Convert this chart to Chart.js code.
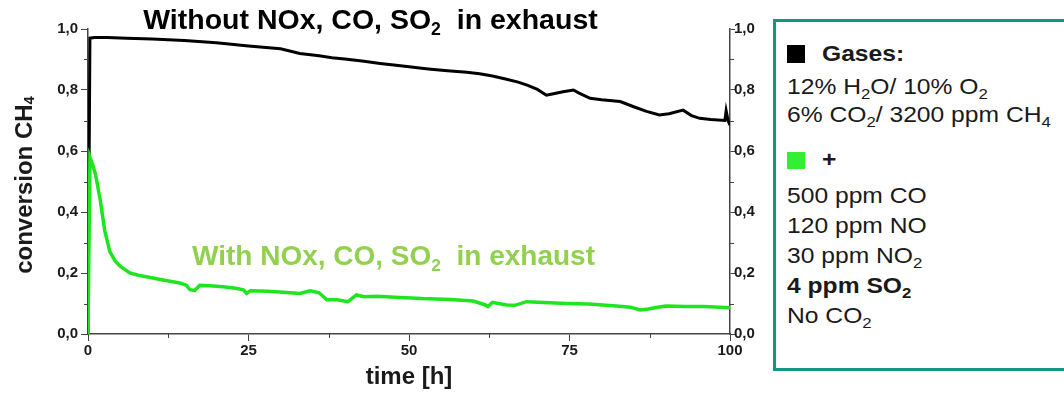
<!DOCTYPE html>
<html>
<head>
<meta charset="utf-8">
<script src="https://cdn.jsdelivr.net/npm/chart.js@4/dist/chart.umd.min.js"></script>
<style>
  body { margin: 0; background: #fff; font-family: 'Liberation Sans', Arial, sans-serif; }
  #wrap { position: relative; width: 1064px; height: 396px; overflow: hidden; }
  #chart { position: absolute; left: 0; top: 0; }
  #legend { position: absolute; left: 773px; top: 19px; width: 300px; height: 346px;
            border: 3px solid #12977f; box-sizing: content-box; color: #1a1a1a; font-size: 22px; }
  #legend .ln { position: absolute; left: 11px; line-height: 22px; white-space: nowrap;
                transform: scaleX(1.12); transform-origin: left center; }
  #legend sub { font-size: 0.68em; vertical-align: -0.35em; line-height: 0; }
  #legend .sq { position: absolute; left: 11px; width: 18px; height: 18px; }
  #legend b { font-weight: bold; }
</style>
</head>
<body>
<div id="wrap">
  <canvas id="chart" width="770" height="396"></canvas>
  <div id="legend">
    <div class="sq" style="top:23px; background:#000"></div>
    <div class="ln" style="top:21px; left:46px"><b>Gases:</b></div>
    <div class="ln" style="top:54px">12% H<sub>2</sub>O/ 10% O<sub>2</sub></div>
    <div class="ln" style="top:82px">6% CO<sub>2</sub>/ 3200 ppm CH<sub>4</sub></div>
    <div class="sq" style="top:130px; height:17px; background:#33ee33"></div>
    <div class="ln" style="top:127px; left:46px"><b>+</b></div>
    <div class="ln" style="top:163px">500 ppm CO</div>
    <div class="ln" style="top:193px">120 ppm NO</div>
    <div class="ln" style="top:223px">30 ppm NO<sub>2</sub></div>
    <div class="ln" style="top:253px"><b>4 ppm SO<sub>2</sub></b></div>
    <div class="ln" style="top:283px">No CO<sub>2</sub></div>
  </div>
</div>
<script>
// time [h] and CH4 conversion
const blackTime = [0, 0.3, 1, 3, 6, 10, 15, 20, 25, 30, 33, 36, 38, 40, 43, 45.5, 48, 50, 53, 56, 59, 61, 63,
  65.2, 67, 68.5, 70, 71.4, 72.5, 74, 75.6, 76.5, 78.2, 80, 82.9, 85, 87, 89, 90.5, 92.7, 94, 95.3, 97, 99.2, 99.4, 99.7, 100];
const blackConv = [0, 0.97, 0.972, 0.972, 0.970, 0.967, 0.962, 0.955, 0.944, 0.935, 0.920, 0.912, 0.906, 0.902, 0.894, 0.887, 0.881, 0.876, 0.869, 0.863, 0.858, 0.853, 0.846,
  0.835, 0.826, 0.815, 0.802, 0.783, 0.788, 0.794, 0.800, 0.790, 0.773, 0.768, 0.762, 0.745, 0.730, 0.718, 0.722, 0.734, 0.716, 0.707, 0.703, 0.700, 0.732, 0.700, 0.685];

const greenTime = [0, 0.3, 0.8, 1.2, 1.9, 2.6, 3.4, 4.2, 5, 6.5, 8, 9.5, 11.7, 13, 14.3, 15.3, 15.9, 16.6, 17.4, 19, 21, 23, 24.2, 24.7, 25.3,
  28, 31, 33, 34.6, 36, 37.2, 38.8, 40.5, 41.8, 43, 45, 48.6, 52, 56.4, 60, 61.8, 62.3, 63, 65.2, 66.5, 68.3, 71, 74.5, 78, 82.3, 84.5, 86, 87.3, 88.5, 90, 93, 96, 100];
const greenConv = [0, 0.58, 0.55, 0.52, 0.44, 0.34, 0.27, 0.24, 0.222, 0.200, 0.192, 0.186, 0.177, 0.172, 0.167, 0.160, 0.145, 0.142, 0.160, 0.158, 0.155, 0.150, 0.145, 0.133, 0.142,
  0.140, 0.136, 0.133, 0.142, 0.135, 0.112, 0.112, 0.106, 0.128, 0.122, 0.124, 0.120, 0.116, 0.113, 0.108, 0.096, 0.090, 0.104, 0.095, 0.094, 0.106, 0.103, 0.100, 0.098, 0.092, 0.088, 0.079, 0.082, 0.087, 0.092, 0.090, 0.090, 0.086];

const xTickValues = [0, 25, 50, 75, 100];
const yTickValues = [0, 0.2, 0.4, 0.6, 0.8, 1.0];
const xMinorTicks = [12.5, 37.5, 62.5, 87.5];
const yMinorTicks = [0.1, 0.3, 0.5, 0.7, 0.9];

const FONT = "'Liberation Sans', Arial, sans-serif";

function toXY(ts, vs) {
  return ts.map((t, i) => ({ x: t, y: vs[i] }));
}

function drawRich(ctx, parts, x, y, size) {
  let cx = x;
  parts.forEach(p => {
    const s = p[1] ? size * 0.62 : size;
    ctx.font = 'bold ' + s + 'px ' + FONT;
    ctx.fillText(p[0], cx, p[1] ? y + size * 0.22 : y);
    cx += ctx.measureText(p[0]).width;
  });
}

function richWidth(ctx, parts, size) {
  let w = 0;
  parts.forEach(p => {
    ctx.font = 'bold ' + (p[1] ? size * 0.62 : size) + 'px ' + FONT;
    w += ctx.measureText(p[0]).width;
  });
  return w;
}

const yFmt = v => v.toFixed(1).replace('.', ',');

const labelsPlugin = {
  id: 'labels',
  afterDraw(chart) {
    const ctx = chart.ctx;
    const xs = chart.scales.x, ys = chart.scales.y;
    const area = chart.chartArea;
    ctx.save();
    // minor ticks
    ctx.strokeStyle = '#444';
    ctx.lineWidth = 1;
    ctx.beginPath();
    xMinorTicks.forEach(v => {
      const px = Math.round(xs.getPixelForValue(v)) + 0.5;
      ctx.moveTo(px, area.bottom);
      ctx.lineTo(px, area.bottom + 4);
    });
    yMinorTicks.forEach(v => {
      const py = Math.round(ys.getPixelForValue(v)) + 0.5;
      ctx.moveTo(area.left - 4, py);
      ctx.lineTo(area.left, py);
      ctx.moveTo(area.right, py);
      ctx.lineTo(area.right + 4, py);
    });
    ctx.stroke();

    // tick labels
    ctx.fillStyle = '#1a1a1a';
    ctx.font = 'bold 15px ' + FONT;
    ctx.textBaseline = 'middle';
    yTickValues.forEach(v => {
      const py = ys.getPixelForValue(v);
      ctx.textAlign = 'right';
      ctx.fillText(yFmt(v), area.left - 10, py);
      ctx.textAlign = 'left';
      ctx.fillText(yFmt(v), area.right + 4, py);
    });
    ctx.textAlign = 'center';
    ctx.textBaseline = 'top';
    xTickValues.forEach(v => {
      ctx.fillText(String(v), xs.getPixelForValue(v), area.bottom + 9);
    });

    ctx.textBaseline = 'alphabetic';
    ctx.textAlign = 'left';
    ctx.fillStyle = '#000';
    drawRich(ctx, [['Without NOx, CO, SO'], ['2', true], ['  in exhaust']],
      xs.getPixelForValue(8.6), ys.getPixelForValue(1.0), 28.5);
    ctx.fillStyle = '#92d050';
    drawRich(ctx, [['With NOx, CO, SO'], ['2', true], ['  in exhaust']],
      xs.getPixelForValue(16.2), ys.getPixelForValue(0.226), 28);
    // y axis title
    ctx.fillStyle = '#1a1a1a';
    ctx.translate(25, 185);
    ctx.rotate(-Math.PI / 2);
    const yt = [['conversion CH'], ['4', true]];
    ctx.textBaseline = 'middle';
    drawRich(ctx, yt, -richWidth(ctx, yt, 24) / 2, 0, 24);
    ctx.restore();
  }
};

const axisBorder = { color: '#444', width: 1.5 };

new Chart(document.getElementById('chart'), {
  type: 'line',
  data: {
    datasets: [
      { data: toXY(greenTime, greenConv), borderColor: '#1ee61e', borderWidth: 3.5, pointRadius: 0, tension: 0 },
      { data: toXY(blackTime, blackConv), borderColor: '#000', borderWidth: 3, pointRadius: 0, tension: 0 }
    ]
  },
  options: {
    responsive: false,
    animation: false,
    devicePixelRatio: 1,
    layout: { padding: { top: 29, left: 0, right: 0, bottom: 0 } },
    plugins: { legend: { display: false }, tooltip: { enabled: false } },
    scales: {
      x: {
        type: 'linear', min: 0, max: 100,
        grid: { drawOnChartArea: false, tickLength: 7, color: '#444' },
        border: axisBorder,
        ticks: { stepSize: 25, autoSkip: false, maxRotation: 0, display: false },
        title: { display: true, text: 'time [h]', color: '#1a1a1a', font: { family: FONT, size: 24, weight: 'bold' }, padding: { top: 0, bottom: 4 } },
        afterFit: s => { s.height = 62; }
      },
      y: {
        min: 0, max: 1,
        grid: { drawOnChartArea: false, tickLength: 7, color: '#444' },
        border: axisBorder,
        ticks: { stepSize: 0.2, autoSkip: false, display: false },
        afterFit: s => { s.width = 88; }
      },
      y2: {
        position: 'right', min: 0, max: 1,
        grid: { drawOnChartArea: false, tickLength: 5, color: '#444' },
        border: axisBorder,
        ticks: { stepSize: 0.2, autoSkip: false, display: false },
        afterFit: s => { s.width = 40; }
      }
    }
  },
  plugins: [labelsPlugin]
});
</script>
</body>
</html>
